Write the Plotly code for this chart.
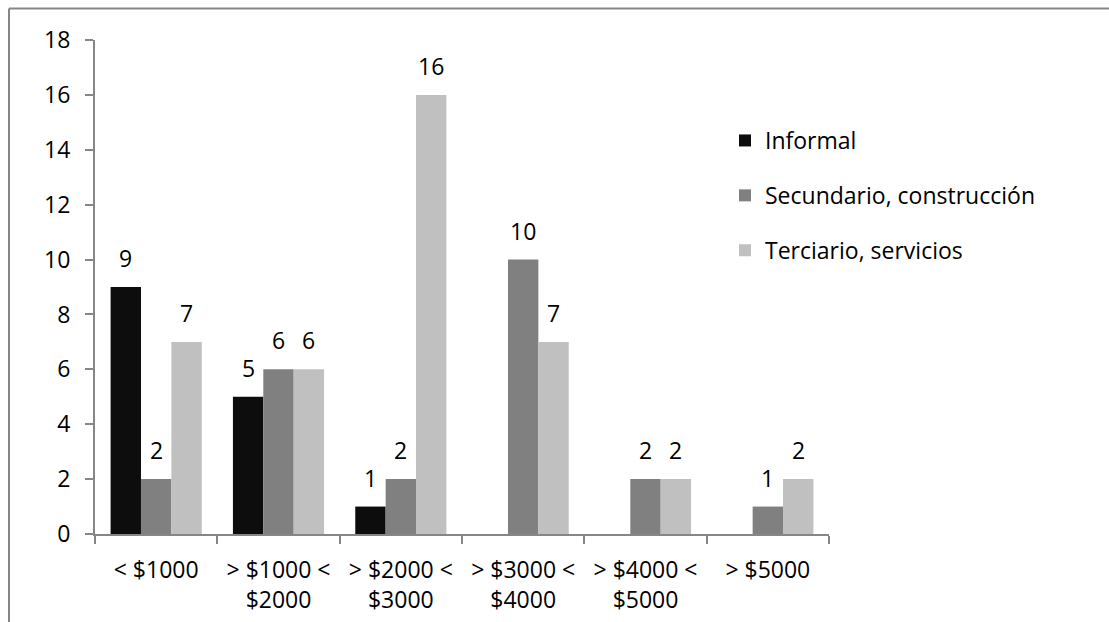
import plotly.graph_objects as go

# Income brackets (x categories)
categories = [
    "&lt; $1000",
    "&gt; $1000 &lt;<br>$2000",
    "&gt; $2000 &lt;<br>$3000",
    "&gt; $3000 &lt;<br>$4000",
    "&gt; $4000 &lt;<br>$5000",
    "&gt; $5000",
]

# Counts per sector
informal = [9, 5, 1, 0, 0, 0]
secundario = [2, 6, 2, 10, 2, 1]
terciario = [7, 6, 16, 7, 2, 2]

series_names = ["Informal", "Secundario, construcción", "Terciario, servicios"]
series_colors = ["#0d0d0d", "#808080", "#c0c0c0"]
series_values = [informal, secundario, terciario]

y_ticks = [0, 2, 4, 6, 8, 10, 12, 14, 16, 18]

FONT = "Open Sans"
FS = 23
W, H = 1109, 622
ML, MR, MT, MB = 95, 280, 40, 88
plot_w = W - ML - MR
bargap = 0.255
bar_px = plot_w / len(categories) * (1 - bargap) / len(series_values)

fig = go.Figure()
annotations = []
for i, (name, vals, col) in enumerate(zip(series_names, series_values, series_colors)):
    fig.add_trace(go.Bar(
        name=name, x=categories, y=vals,
        marker=dict(color=col, line=dict(width=0)),
        legendgroup=name,
    ))
    for cat, v in zip(categories, vals):
        if v:
            annotations.append(dict(
                x=cat, y=v, xref="x", yref="y", text=str(v), showarrow=False,
                xshift=(i - 1) * bar_px, yshift=11, yanchor="bottom",
                font=dict(family=FONT, size=FS, color="black"),
            ))

# outer chart frame (left and top edges)
px = lambda p: (p - ML) / plot_w
py = lambda p: (H - MB - p) / (H - MT - MB)
frame = dict(color="#868686", width=2)
shapes = [
    dict(type="line", xref="paper", yref="paper", x0=px(9), x1=px(9), y0=py(8.5), y1=py(640), line=frame),
    dict(type="line", xref="paper", yref="paper", x0=px(9), x1=px(1130), y0=py(8.5), y1=py(8.5), line=frame),
]

fig.update_layout(
    width=W, height=H,
    margin=dict(l=ML, r=MR, t=MT, b=MB),
    barmode="group", bargap=bargap, bargroupgap=0,
    plot_bgcolor="white", paper_bgcolor="white",
    font=dict(family=FONT, size=FS, color="black"),
    showlegend=True,
    legend=dict(
        x=px(725), y=py(119), xanchor="left", yanchor="top",
        traceorder="grouped", tracegroupgap=22,
        font=dict(family=FONT, size=FS, color="black"),
        bgcolor="rgba(0,0,0,0)",
    ),
    xaxis=dict(
        showline=True, linecolor="#868686", linewidth=2,
        ticks="outside", ticklen=8, tickcolor="#868686", tickwidth=2,
        tickson="boundaries", showgrid=False, ticklabelstandoff=14,
        automargin=False,
        tickfont=dict(family=FONT, size=FS, color="black"),
    ),
    yaxis=dict(
        range=[0, 18], tickvals=y_ticks,
        showline=True, linecolor="#868686", linewidth=2,
        ticks="outside", ticklen=8, tickcolor="#868686", tickwidth=2,
        showgrid=False, zeroline=False, ticklabelstandoff=10,
        automargin=False,
        tickfont=dict(family=FONT, size=FS, color="black"),
    ),
    annotations=annotations,
    shapes=shapes,
)

fig.write_html("out.html")
